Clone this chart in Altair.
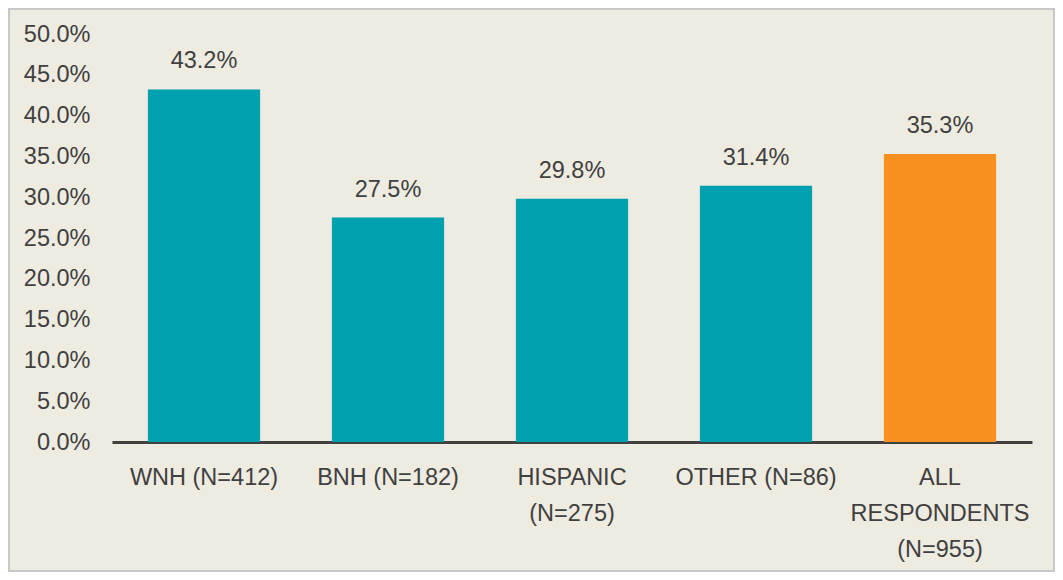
import altair as alt
import pandas as pd

categories = ["WNH (N=412)", "BNH (N=182)", "HISPANIC|(N=275)", "OTHER (N=86)", "ALL|RESPONDENTS|(N=955)"]
values = [43.2, 27.5, 29.8, 31.4, 35.3]
groups = ["sub", "sub", "sub", "sub", "all"]

df = pd.DataFrame({"cat": categories, "val": values, "grp": groups})
df["lab"] = df["val"].map(lambda v: f"{v:.1f}%")

FONT = "Liberation Sans"
TXT = "#404040"
FS = 23.5

x = alt.X("cat:N", sort=categories, title=None,
          scale=alt.Scale(paddingInner=0.39, paddingOuter=0.195),
          axis=alt.Axis(labelExpr="split(datum.label, '|')", labelAngle=0,
                        labelFontSize=FS, labelFont=FONT, labelColor=TXT,
                        labelLineHeight=36, labelPadding=23, ticks=False,
                        domainColor="#404040", domainWidth=3, labelBaseline="top"))
y = alt.Y("val:Q", title=None,
          scale=alt.Scale(domain=[0, 50]),
          axis=alt.Axis(values=[0, 5, 10, 15, 20, 25, 30, 35, 40, 45, 50],
                        labelExpr="format(datum.value, '.1f') + '%'",
                        grid=False, domain=False, ticks=False,
                        labelFontSize=FS, labelFont=FONT, labelColor=TXT,
                        labelPadding=22))

bars = alt.Chart(df).mark_bar().encode(
    x=x, y=y,
    color=alt.Color("grp:N", scale=alt.Scale(domain=["sub", "all"], range=["#00A0B0", "#F7901E"]), legend=None),
)
labels = alt.Chart(df).mark_text(baseline="bottom", dy=-16, fontSize=FS, font=FONT, color=TXT).encode(
    x=alt.X("cat:N", sort=categories), y="val:Q", text="lab:N")

frame = alt.Chart(df).mark_rect(fill=None, stroke="#C8C8C8", strokeWidth=2).encode(
    x=alt.value(-103), x2=alt.value(942), y=alt.value(-25), y2=alt.value(537))

chart = alt.layer(bars, labels, frame).properties(
    width=920, height=408,
    autosize=alt.AutoSizeParams(type="none"),
    padding={"left": 104, "top": 26, "right": 23, "bottom": 130},
    background="#EEEBE0",
).configure_view(stroke=None)

chart.save("out.html", embed_options={"renderer": "svg", "actions": False})
